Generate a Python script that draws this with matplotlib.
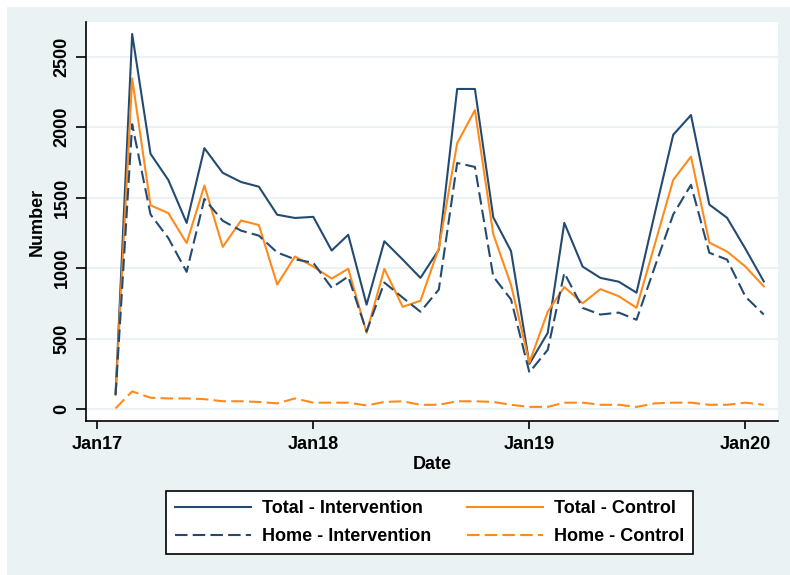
import numpy as np
import pandas as pd
import matplotlib
matplotlib.use('Agg')
import matplotlib.pyplot as plt
from matplotlib.patches import Rectangle

plt.rcParams['font.family'] = ['Liberation Sans', 'DejaVu Sans']
plt.rcParams['font.weight'] = 'bold'
plt.rcParams['axes.labelweight'] = 'bold'

dates = pd.date_range('2017-02-01', periods=37, freq='MS')

total_intervention = [110, 2660, 1810, 1625, 1320, 1850, 1675, 1610, 1577, 1378,
                      1355, 1363, 1124, 1236, 740, 1190, 1060, 930, 1130, 2270,
                      2270, 1360, 1120, 320, 540, 1320, 1010, 930, 903, 825,
                      1390, 1945, 2085, 1450, 1356, 1136, 905]
total_control = [100, 2345, 1445, 1390, 1177, 1585, 1150, 1337, 1305, 883,
                 1082, 1010, 925, 995, 541, 994, 725, 768, 1140, 1885,
                 2120, 1240, 880, 330, 690, 865, 750, 850, 800, 718,
                 1170, 1625, 1790, 1180, 1117, 1010, 870]
home_intervention = [100, 2020, 1380, 1213, 973, 1490, 1335, 1265, 1230, 1110,
                     1062, 1037, 860, 940, 550, 897, 790, 690, 847, 1745,
                     1717, 940, 777, 260, 420, 965, 717, 670, 684, 633,
                     1010, 1380, 1590, 1108, 1060, 797, 670]
home_control = [5, 125, 80, 75, 75, 70, 55, 55, 50, 40,
                75, 45, 45, 45, 25, 50, 55, 30, 30, 55,
                55, 50, 30, 15, 15, 45, 45, 30, 30, 15,
                40, 45, 45, 30, 30, 45, 30]

tick_dates = pd.to_datetime(['2017-01-01', '2018-01-01', '2019-01-01', '2020-01-01'])
tick_labels = ['Jan17', 'Jan18', 'Jan19', 'Jan20']
y_ticks = [0, 500, 1000, 1500, 2000, 2500]

navy = '#234b72'
orange = '#ff8a1c'
bg = '#eaf2f3'

W, H = 790, 575
fig = plt.figure(figsize=(W / 100, H / 100), dpi=100, facecolor='white')
fig.patches.append(Rectangle((7 / W, 0), 1, 1 - 7 / H, transform=fig.transFigure,
                             facecolor=bg, edgecolor='none', zorder=-5))

ax = fig.add_axes([86 / W, 1 - 421 / H, (778 - 86) / W, (421 - 22) / H])
ax.set_facecolor('white')

l1, = ax.plot(dates, total_intervention, color=navy, lw=1.5, label='Total - Intervention')
l2, = ax.plot(dates, total_control, color=orange, lw=1.5, label='Total - Control')
l3, = ax.plot(dates, home_intervention, color=navy, lw=1.5, dashes=(6, 2.5),
              label='Home - Intervention')
l4, = ax.plot(dates, home_control, color=orange, lw=1.5, dashes=(6, 2.5),
              label='Home - Control')

ax.set_xlim(pd.Timestamp('2016-12-13'), pd.Timestamp('2020-02-25'))
ax.set_ylim(-85, 2745)

ax.set_xticks(tick_dates)
ax.set_xticklabels(tick_labels, fontsize=13, fontweight='bold')
ax.set_yticks(y_ticks)
ax.set_yticklabels([str(v) for v in y_ticks], fontsize=13, fontweight='bold',
                   rotation=90, va='center')

ax.yaxis.grid(True, color=bg, lw=1.5)
ax.set_axisbelow(True)
for s in ['top', 'right']:
    ax.spines[s].set_visible(False)
for s in ['left', 'bottom']:
    ax.spines[s].set_color('black')
    ax.spines[s].set_linewidth(1.2)
ax.tick_params(axis='x', length=6, width=1.2, pad=5)
ax.tick_params(axis='y', length=7, width=1.2, pad=4)

ax.set_xlabel('Date', fontsize=13, fontweight='bold', labelpad=2)
ax.set_ylabel('Number', fontsize=13, fontweight='bold', labelpad=6)

leg = ax.legend(handles=[l1, l3, l2, l4], ncol=2, loc='center',
                bbox_to_anchor=((160 + 699) / 2 / W, 1 - (488 + 557) / 2 / H),
                bbox_transform=fig.transFigure, fontsize=13, frameon=True,
                fancybox=False, edgecolor='black', framealpha=1,
                handlelength=4.2, handletextpad=0.6, columnspacing=2.0,
                labelspacing=0.6, borderpad=0.5)
leg.get_frame().set_linewidth(1.2)

fig.savefig('out.png', dpi=100, facecolor=fig.get_facecolor())
